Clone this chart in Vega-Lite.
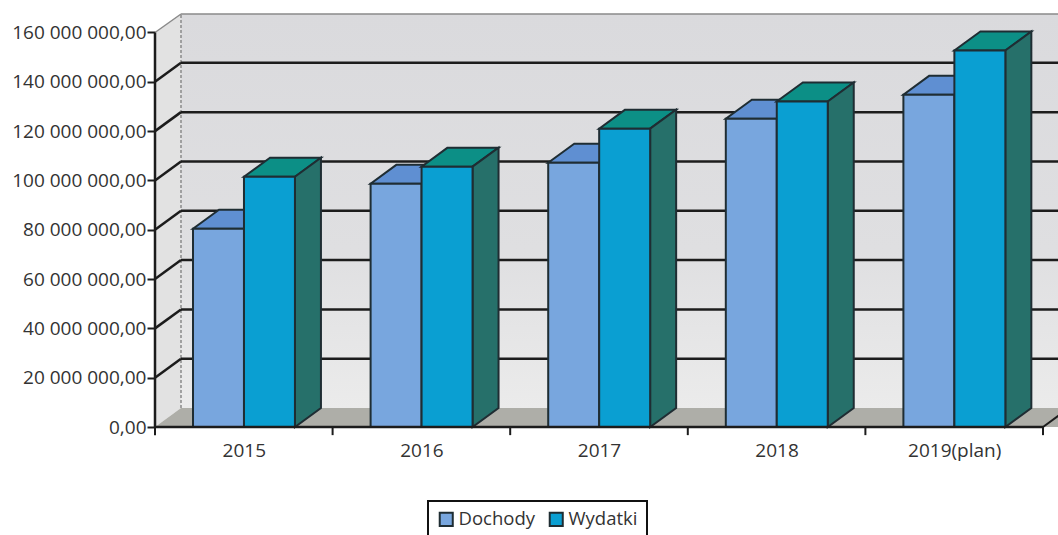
{
"$schema":"https://vega.github.io/schema/vega-lite/v6.json",
"width":903,"height":413,
"autosize":{"type":"none"},
"padding":{"left":155,"top":14,"right":0,"bottom":108},
"background":"#ffffff",
"config":{"view":{"stroke":null},"font":"Open Sans","legend":{"strokeWidth":2}},
"datasets":{
"bars":[
{"rok":"2015","idx":0,"seria":"Dochody","wartosc":80400000},
{"rok":"2015","idx":0,"seria":"Wydatki","wartosc":101500000},
{"rok":"2016","idx":1,"seria":"Dochody","wartosc":98700000},
{"rok":"2016","idx":1,"seria":"Wydatki","wartosc":105600000},
{"rok":"2017","idx":2,"seria":"Dochody","wartosc":107200000},
{"rok":"2017","idx":2,"seria":"Wydatki","wartosc":121000000},
{"rok":"2018","idx":3,"seria":"Dochody","wartosc":125000000},
{"rok":"2018","idx":3,"seria":"Wydatki","wartosc":132000000},
{"rok":"2019(plan)","idx":4,"seria":"Dochody","wartosc":134800000},
{"rok":"2019(plan)","idx":4,"seria":"Wydatki","wartosc":152700000}
],
"grid":[{"v":20000000},{"v":40000000},{"v":60000000},{"v":80000000},{"v":100000000},{"v":120000000},{"v":140000000}],
"units":[{"u":0},{"u":1},{"u":2},{"u":3},{"u":4},{"u":5}],
"depth":[{"k":0},{"k":1}]
},
"layer":[
{"data":{"values":[{}]},
 "mark":{"type":"rect","fill":{"x1":0,"y1":0,"x2":0,"y2":1,"gradient":"linear","stops":[{"offset":0,"color":"#dadadd"},{"offset":0.6,"color":"#dfdfe1"},{"offset":1,"color":"#ebebeb"}]}},
 "encoding":{
  "x":{"datum":0.1464,"type":"quantitative","title":null,"scale":{"domain":[0,5.0845],"nice":false,"zero":false},
   "axis":{"title":null,"values":[0.5,1.5,2.5,3.5,4.5],"ticks":false,"domain":false,"grid":false,"labelFontSize":19,"labelColor":"#333333","labelPadding":14,"labelFont":"Open Sans",
    "labelExpr":"['2015','2016','2017','2018','2019(plan)'][floor(datum.value)]"}},
  "x2":{"datum":5.0845},
  "y":{"datum":7700000,"type":"quantitative","title":null,"scale":{"domain":[0,167500000],"nice":false,"zero":false},
   "axis":{"title":null,"values":[0,20000000,40000000,60000000,80000000,100000000,120000000,140000000,160000000],"domain":false,"grid":false,"tickColor":"#1c1c1c","tickWidth":2,"tickSize":8,"labelFontSize":19,"labelColor":"#333333","labelPadding":1,"labelFont":"Open Sans",
    "labelExpr":"replace(replace(format(datum.value,',.2f'),/,/g,' '),'.',',')"}},
  "y2":{"datum":167500000}
 }},
{"data":{"name":"depth"},
 "transform":[{"calculate":"datum.k*0.1464","as":"wx"},{"calculate":"datum.k*7700000","as":"wy0"},{"calculate":"160000000+datum.k*7700000","as":"wy1"}],
 "mark":{"type":"area","orient":"vertical","color":"#e2e2e2"},
 "encoding":{"x":{"field":"wx","type":"quantitative"},"y":{"field":"wy0","type":"quantitative"},"y2":{"field":"wy1"}}},
{"data":{"name":"depth"},
 "transform":[{"calculate":"datum.k*0.1464","as":"fx0"},{"calculate":"6+datum.k*0.1464","as":"fx1"},{"calculate":"datum.k*7700000","as":"fy"}],
 "mark":{"type":"area","orient":"horizontal","color":"#aeaea8"},
 "encoding":{"y":{"field":"fy","type":"quantitative"},"x":{"field":"fx0","type":"quantitative"},"x2":{"field":"fx1"}}},
{"data":{"values":[{}]},
 "mark":{"type":"rule","color":"#8a8a8a","strokeWidth":1.5},
 "encoding":{"x":{"datum":0.1464,"type":"quantitative"},"x2":{"datum":5.0845},"y":{"datum":167500000,"type":"quantitative"}}},
{"data":{"values":[{}]},
 "mark":{"type":"rule","color":"#8a8a8a","strokeWidth":1.5,"strokeDash":[3,2]},
 "encoding":{"x":{"datum":0.1464,"type":"quantitative"},"y":{"datum":7700000,"type":"quantitative"},"y2":{"datum":167500000}}},
{"data":{"values":[{}]},
 "mark":{"type":"rule","color":"#8a8a8a","strokeWidth":1.5},
 "encoding":{"x":{"datum":0,"type":"quantitative"},"x2":{"datum":0.1464},"y":{"datum":160000000,"type":"quantitative"},"y2":{"datum":167500000}}},
{"data":{"name":"grid"},
 "transform":[{"calculate":"datum.v+7700000","as":"gy"}],
 "mark":{"type":"rule","color":"#1c1c1c","strokeWidth":2.5},
 "encoding":{"x":{"datum":0.1464,"type":"quantitative"},"x2":{"datum":5.0845},"y":{"field":"gy","type":"quantitative"}}},
{"data":{"name":"grid"},
 "transform":[{"calculate":"datum.v+7700000","as":"gy"}],
 "mark":{"type":"rule","color":"#1c1c1c","strokeWidth":2.5},
 "encoding":{"x":{"datum":0,"type":"quantitative"},"x2":{"datum":0.1464},"y":{"field":"v","type":"quantitative"},"y2":{"field":"gy"}}},
{"data":{"name":"bars"},
 "transform":[{"filter":"datum.seria=='Dochody'"},{"calculate":"[0,1]","as":"k"},{"flatten":["k"]},{"calculate":"datum.idx+0.214+datum.k*0.1464","as":"tx0"},{"calculate":"datum.idx+0.501+datum.k*0.1464","as":"tx1"},{"calculate":"datum.wartosc+datum.k*7700000","as":"ty"}],
 "mark":{"type":"area","orient":"horizontal","color":"#5f8fd2","stroke":"#1f2d33","strokeWidth":2},
 "encoding":{"y":{"field":"ty","type":"quantitative"},"x":{"field":"tx0","type":"quantitative"},"x2":{"field":"tx1"},"detail":{"field":"rok"}}},
{"data":{"name":"bars"},
 "transform":[{"filter":"datum.seria=='Wydatki'"},{"calculate":"[0,1]","as":"k"},{"flatten":["k"]},{"calculate":"datum.idx+0.501+datum.k*0.1464","as":"tx0"},{"calculate":"datum.idx+0.788+datum.k*0.1464","as":"tx1"},{"calculate":"datum.wartosc+datum.k*7700000","as":"ty"}],
 "mark":{"type":"area","orient":"horizontal","color":"#0c8f86","stroke":"#1f2d33","strokeWidth":2},
 "encoding":{"y":{"field":"ty","type":"quantitative"},"x":{"field":"tx0","type":"quantitative"},"x2":{"field":"tx1"},"detail":{"field":"rok"}}},
{"data":{"name":"bars"},
 "transform":[{"filter":"datum.seria=='Wydatki'"},{"calculate":"[0,1]","as":"k"},{"flatten":["k"]},{"calculate":"datum.idx+0.788+datum.k*0.1464","as":"sx"},{"calculate":"datum.k*7700000","as":"sy0"},{"calculate":"datum.wartosc+datum.k*7700000","as":"sy1"}],
 "mark":{"type":"area","orient":"vertical","color":"#26706a","stroke":"#1f2d33","strokeWidth":2},
 "encoding":{"x":{"field":"sx","type":"quantitative"},"y":{"field":"sy1","type":"quantitative"},"y2":{"field":"sy0"},"detail":{"field":"rok"}}},
{"data":{"name":"bars"},
 "transform":[{"calculate":"datum.idx+0.214+(datum.seria=='Wydatki'?0.287:0)","as":"bx0"},{"calculate":"datum.bx0+0.287","as":"bx1"},{"calculate":"0","as":"b0"}],
 "mark":{"type":"rect","stroke":"#1f2d33","strokeWidth":2},
 "encoding":{"x":{"field":"bx0","type":"quantitative"},"x2":{"field":"bx1"},"y":{"field":"wartosc","type":"quantitative"},"y2":{"field":"b0"},
  "fill":{"field":"seria","type":"nominal","scale":{"domain":["Dochody","Wydatki"],"range":["#78a6de","#0a9fd2"]},
   "legend":{"title":null,"orient":"none","legendX":273,"legendY":487,"direction":"horizontal","columns":2,"symbolType":"square","symbolSize":170,"symbolStrokeColor":"#1f2d33","symbolStrokeWidth":2,"labelFontSize":18.5,"labelColor":"#333333","labelFont":"Open Sans","labelOffset":3,"columnPadding":10,"padding":9,"strokeColor":"#111111","fillColor":"#ffffff"}}}},
{"data":{"name":"units"},
 "mark":{"type":"rule","color":"#1c1c1c","strokeWidth":2},
 "encoding":{"x":{"field":"u","type":"quantitative"},"y":{"datum":0,"type":"quantitative"},"y2":{"datum":-3300000}}},
{"data":{"values":[{}]},
 "mark":{"type":"rule","color":"#1c1c1c","strokeWidth":2.5},
 "encoding":{"x":{"datum":0,"type":"quantitative"},"x2":{"datum":5},"y":{"datum":0,"type":"quantitative"}}},
{"data":{"values":[{}]},
 "mark":{"type":"rule","color":"#1c1c1c","strokeWidth":2.5},
 "encoding":{"x":{"datum":0,"type":"quantitative"},"y":{"datum":0,"type":"quantitative"},"y2":{"datum":160000000}}},
{"data":{"values":[{}]},
 "mark":{"type":"rule","color":"#1c1c1c","strokeWidth":2},
 "encoding":{"x":{"datum":5,"type":"quantitative"},"x2":{"datum":5.1464},"y":{"datum":0,"type":"quantitative"},"y2":{"datum":7700000}}}
]
}
